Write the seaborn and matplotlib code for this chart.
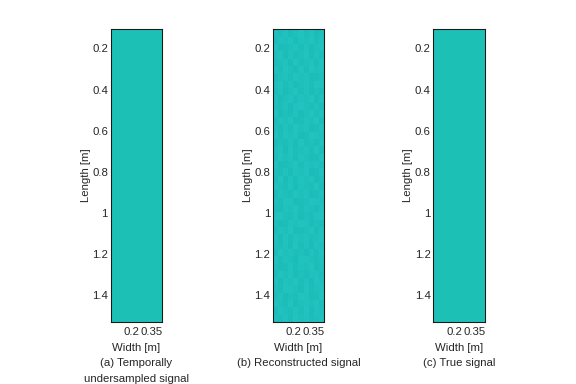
import numpy as np
import matplotlib
matplotlib.use("Agg")
import matplotlib.pyplot as plt
import seaborn as sns
from matplotlib.colors import ListedColormap, LinearSegmentedColormap

sns.set_style("white")
plt.rcParams['font.family'] = ['Liberation Sans', 'DejaVu Sans']

# Dati
width_lim = (0.05, 0.425)      # [m]
length_lim = (0.107, 1.532)    # [m]
width_ticks = [0.125, 0.2, 0.275, 0.35]
width_labels = ['', '0.2', '', '0.35']
length_ticks = [0.2, 0.4, 0.6, 0.8, 1.0, 1.2, 1.4]
length_labels = ['0.2', '0.4', '0.6', '0.8', '1', '1.2', '1.4']

captions = ['(a) Temporally\nundersampled signal',
            '(b) Reconstructed signal',
            '(c) True signal']

# segnale (a) e (c): campo uniforme
undersampled = [[1.0, 1.0], [1.0, 1.0]]
true_signal = [[1.0, 1.0], [1.0, 1.0]]

# segnale (b): leggere variazioni (livelli 0-9)
recon_rows = [
    "5463574635", "4657365746", "6345746357", "5736457364", "4563745637",
    "6475364756", "3564756345", "5746356476", "4635746354", "6357465736",
    "5463675463", "7354635746", "4657346573", "5364756346", "6475634765",
    "3546374536", "5637456473", "4756365347", "6345746564", "5463657346",
    "4736475635", "6547365473", "3654756346", "5476345765", "4365746536",
    "6754635467", "5346576354", "4657345736", "6374656457", "5463746365",
    "3756453647", "6465376546", "5347465735", "4756354664", "6365746375",
    "5476537456", "4635476347", "6547356574", "3654647365", "5463756456",
]
reconstructed = [[int(c) for c in r] for r in recon_rows]

fig = plt.figure(figsize=(6, 4), dpi=96)
lefts = [0.192, 0.4734, 0.7523]
panels = [
    (undersampled, ListedColormap(['#1dc0b4']), 0, 2),
    (reconstructed, LinearSegmentedColormap.from_list('t', ['#18b6b3', '#24c7c3']), 0, 9),
    (true_signal, ListedColormap(['#1dc0b4']), 0, 2),
]

def to_cell(vals, lim, n):
    return [(v - lim[0]) / (lim[1] - lim[0]) * n for v in vals]

for left, (data, cmap, vmin, vmax), cap in zip(lefts, panels, captions):
    ax = fig.add_axes([left, 0.1615, 0.0896, 0.762])
    arr = np.array(data, dtype=float)
    ny, nx = arr.shape
    sns.heatmap(arr, ax=ax, cmap=cmap, vmin=vmin, vmax=vmax, cbar=False,
                xticklabels=False, yticklabels=False)
    for s in ax.spines.values():
        s.set_visible(True)
        s.set_linewidth(0.8)
        s.set_color('#1a1a1a')
    ax.set_xticks(to_cell(width_ticks, width_lim, nx))
    ax.set_xticklabels(width_labels, rotation=0)
    ax.set_yticks(to_cell(length_ticks, length_lim, ny))
    ax.set_yticklabels(length_labels, rotation=0)
    ax.tick_params(direction='in', top=True, right=True, length=3, width=0.7,
                   labelsize=8.5, colors='#262626')
    ax.tick_params(axis='x', pad=4)
    ax.tick_params(axis='y', pad=2)
    ax.set_xlabel('Width [m]\n' + cap, fontsize=8.5, color='#262626', labelpad=4,
                  linespacing=1.7)
    ax.set_ylabel('Length [m]', fontsize=8.5, color='#262626', labelpad=1)

fig.savefig('out.png', dpi=96)
